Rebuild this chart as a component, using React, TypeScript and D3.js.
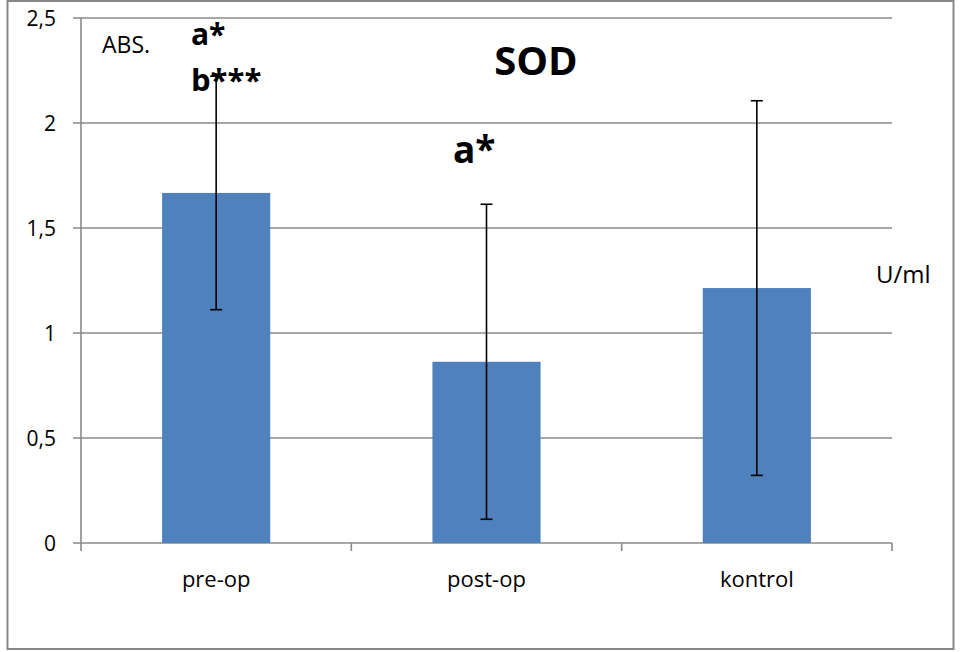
import React from "react";
import * as d3 from "d3";

const categories = ["pre-op", "post-op", "kontrol"];
const means = [1.667, 0.863, 1.214];
const errors = [0.556, 0.75, 0.892];
const yTicks = [0, 0.5, 1, 1.5, 2, 2.5];
const yTickLabels = ["0", "0,5", "1", "1,5", "2", "2,5"];

const W = 960;
const H = 652;
const left = 81;
const right = 892;
const top = 18;
const bottom = 543;
const font = "'Open Sans', Lato, sans-serif";

export default function App() {
  const band = d3.scaleBand<string>().domain(categories).range([left, right]);
  const y = d3.scaleLinear().domain([0, 2.5]).range([bottom, top]);
  const grid = "#8a8a8a";
  const bw = band.bandwidth() * 0.4;
  const center = (c: string) => (band(c) as number) + band.bandwidth() / 2;
  const catBounds = [left, ...categories.map((c) => (band(c) as number) + band.bandwidth())];

  return (
    <svg width={W} height={H} style={{ position: "absolute", left: 0, top: 0 }} fontFamily={font}>
      <rect x={0} y={0} width={W} height={H} fill="#fff" />
      <rect x={7.5} y={1} width={946} height={648} fill="#fff" stroke="#878787" strokeWidth={2} />
      {/* horizontal gridlines and y ticks */}
      {yTicks.map((t, i) => (
        <g key={t}>
          <line x1={left - 8} x2={right} y1={y(t)} y2={y(t)} stroke={grid} strokeWidth={1.6} />
          <text x={56} y={y(t) + 8} textAnchor="end" fontSize={21} fill="#000">
            {yTickLabels[i]}
          </text>
        </g>
      ))}
      {/* y axis */}
      <line x1={left} x2={left} y1={top} y2={bottom + 1} stroke={grid} strokeWidth={1.6} />
      {/* x category ticks */}
      {catBounds.map((b, i) => (
        <line key={i} x1={b} x2={b} y1={bottom} y2={bottom + 8} stroke={grid} strokeWidth={1.6} />
      ))}
      {/* bars */}
      {categories.map((c, i) => (
        <rect key={c} x={center(c) - bw / 2} y={y(means[i])} width={bw} height={y(0) - y(means[i])} fill="#4f81bd" />
      ))}
      {/* error bars */}
      {categories.map((c, i) => {
        const cx = center(c);
        const hi = y(means[i] + errors[i]);
        const lo = y(means[i] - errors[i]);
        return (
          <g key={c} stroke="#000" strokeWidth={1.6}>
            <line x1={cx} x2={cx} y1={hi} y2={lo} />
            <line x1={cx - 6} x2={cx + 6} y1={hi} y2={hi} />
            <line x1={cx - 6} x2={cx + 6} y1={lo} y2={lo} />
          </g>
        );
      })}
      {/* category labels */}
      {categories.map((c) => (
        <text key={c} x={center(c)} y={587} textAnchor="middle" fontSize={22} fill="#000">
          {c}
        </text>
      ))}
      <text x={536} y={75} textAnchor="middle" fontSize={40} fontWeight="bold" fill="#000">
        SOD
      </text>
      <text x={102} y={53} fontSize={23} fill="#000">ABS.</text>
      <text x={191} y={45} fontSize={30} fontWeight="bold" fill="#000">a*</text>
      <text x={191} y={91} fontSize={31} fontWeight="bold" fill="#000">b***</text>
      <text x={453} y={163} fontSize={37} fontWeight="bold" fill="#000">a*</text>
      <text x={876} y={283} fontSize={24} fill="#000">U/ml</text>
    </svg>
  );
}
